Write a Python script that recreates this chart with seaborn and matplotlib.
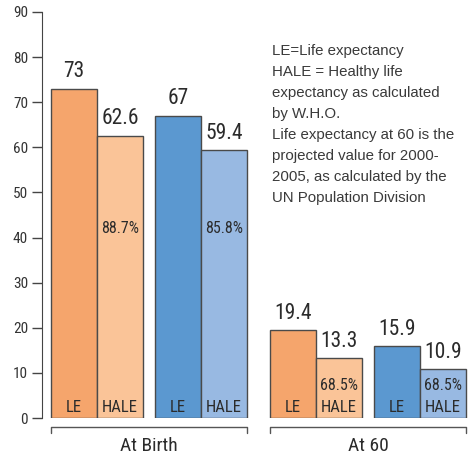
import pandas as pd
import seaborn as sns
import matplotlib.pyplot as plt
from matplotlib import font_manager

# data
groups = ["At Birth", "At Birth", "At Birth", "At Birth", "At 60", "At 60", "At 60", "At 60"]
measures = ["LE", "HALE", "LE", "HALE", "LE", "HALE", "LE", "HALE"]
values = [73, 62.6, 67, 59.4, 19.4, 13.3, 15.9, 10.9]
value_labels = ["73", "62.6", "67", "59.4", "19.4", "13.3", "15.9", "10.9"]
pct_labels = ["", "88.7%", "", "85.8%", "", "68.5%", "", "68.5%"]
colors = ["#F5A56C", "#FAC498", "#5B98D0", "#98B9E2",
          "#F5A56C", "#FAC498", "#5B98D0", "#98B9E2"]
note = ("LE=Life expectancy\n"
        "HALE = Healthy life\n"
        "expectancy as calculated\n"
        "by W.H.O.\n"
        "Life expectancy at 60 is the\n"
        "projected value for 2000-\n"
        "2005, as calculated by the\n"
        "UN Population Division")

sns.set_style("ticks")
installed = {f.name for f in font_manager.fontManager.ttflist}
narrow = "Roboto Condensed" if "Roboto Condensed" in installed else "DejaVu Sans"
plt.rcParams["font.family"] = [narrow, "DejaVu Sans"]

# bar positions: pairs touch, small gap between pairs, larger gap between groups
pos = []
for i in range(len(values)):
    g = i // 4
    p = (i // 2) % 2
    pos.append(i + p * 0.261 + g * 0.761)

df = pd.DataFrame({"x": pos, "value": values, "bar": [str(i) for i in range(len(values))]})

fig = plt.figure(figsize=(4.68, 4.58), dpi=100)
ax = fig.add_axes([0.0897, 0.0873, 0.9103, 0.8865])

sns.barplot(data=df, x="x", y="value", hue="bar", palette=colors, native_scale=True,
            dodge=False, width=1.0, saturation=1, legend=False,
            edgecolor="#4a4a4a", linewidth=1, ax=ax)

ax.set_xlim(-0.696, 8.565)
ax.set_ylim(0, 90)
ax.set_yticks(range(0, 91, 10))
ax.set_xticks([])
ax.set_xlabel("")
ax.set_ylabel("")
sns.despine(ax=ax, bottom=True)
ax.spines["left"].set_color("#444444")
ax.tick_params(axis="y", length=7, width=1, color="#444444", labelcolor="#333333", labelsize=11, pad=3)

txt = "#2b2b2b"
for x, v, lab, m, pl in zip(pos, values, value_labels, measures, pct_labels):
    ax.text(x, v + 1.4, lab, ha="center", va="bottom", fontsize=15.5, color=txt)
    ax.text(x, 2.3, m, ha="center", va="center", fontsize=12, color=txt)
    if pl:
        py = 42 if v > 30 else 7.3
        ax.text(x, py, pl, ha="center", va="center", fontsize=11.5, color=txt)

# brackets under each group
for g, name in enumerate(["At Birth", "At 60"]):
    xs = [p for p, gr in zip(pos, groups) if gr == name]
    x0, x1 = min(xs) - 0.5, max(xs) + 0.5
    ax.plot([x0, x0, x1, x1], [-3.3, -2.0, -2.0, -3.3], color="#555555", lw=1, clip_on=False)
    ax.text((x0 + x1) / 2, -6.2, name, ha="center", va="center", fontsize=14, color=txt)

fig.text(272 / 468, 1 - 44 / 458, note, ha="left", va="top", fontsize=10.8,
         family=["Liberation Sans", "DejaVu Sans"], color="#3a3a3a", linespacing=1.63)

fig.savefig("out.png", dpi=100)
